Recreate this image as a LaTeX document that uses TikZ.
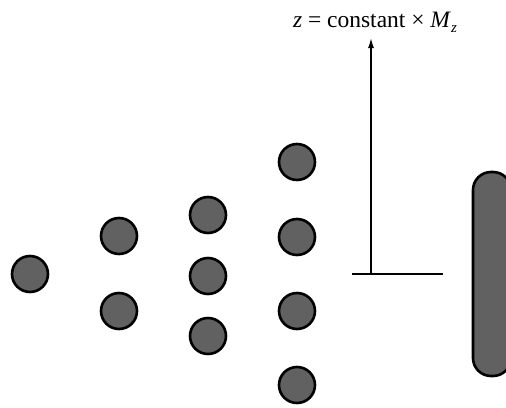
\documentclass[tikz,border=0pt]{standalone}
\usepackage{fontspec}
\setmainfont{Liberation Serif}
\usetikzlibrary{arrows.meta}
\begin{document}
\begin{tikzpicture}[x=1pt,y=-1pt,
  ball/.style={circle,draw=black,line width=2.6pt,fill=black!62,minimum size=36pt,inner sep=0pt},
  axis/.style={line width=1.5pt}]
\useasboundingbox (0,0) rectangle (506,407);
\begin{scope}
\clip (0,0) rectangle (506,407);
\node[ball] (a1) at (30,274) {};
\node[ball] (b1) at (119,236) {};
\node[ball] (b2) at (119,311) {};
\node[ball] (c1) at (208,215) {};
\node[ball] (c2) at (208,276) {};
\node[ball] (c3) at (208,336) {};
\node[ball] (d1) at (297,162) {};
\node[ball] (d2) at (297,237) {};
\node[ball] (d3) at (297,311) {};
\node[ball] (d4) at (297,385) {};
\node[draw=black,line width=2.6pt,fill=black!62,rounded corners=18pt,minimum width=38pt,minimum height=204pt,inner sep=0pt] (det) at (492,274) {};
\end{scope}
\coordinate (hl) at (352,274);
\coordinate (hr) at (443,274);
\coordinate (base) at (371,274);
\coordinate (tip) at (371,38);
\draw[axis] (hl) -- (hr);
\draw[axis,-{Latex[length=10pt,width=6pt]}] (base) -- (tip);
\node[anchor=base,font=\fontsize{23.5}{26}\selectfont,inner sep=0pt] (lab) at (375,27) {\textit{z} = constant × \textit{M}\raisebox{-0.25em}{\fontsize{15}{17}\selectfont\textit{z}}};
\end{tikzpicture}
\end{document}
